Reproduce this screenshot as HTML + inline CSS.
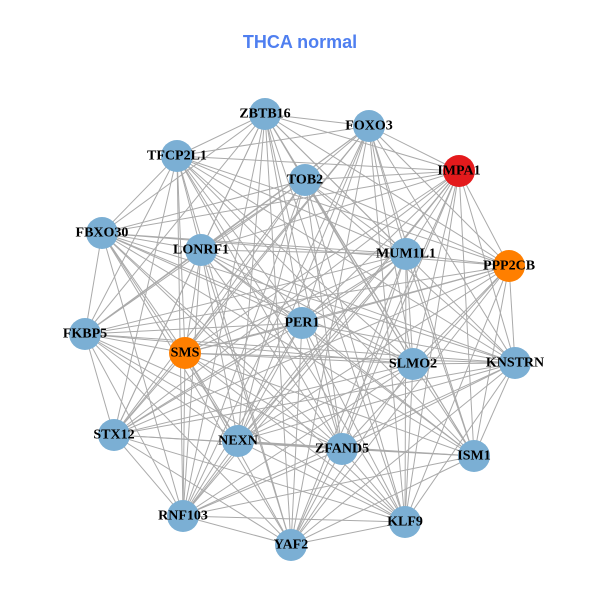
<!DOCTYPE html>
<html><head><meta charset="utf-8"><style>
html,body{margin:0;padding:0;background:#fff;}
svg{display:block;}
.l{font-family:"Liberation Serif",serif;font-weight:bold;font-size:14px;fill:#000;text-anchor:middle;dominant-baseline:central;}
</style></head><body>
<svg id="s" width="600" height="600" viewBox="0 0 600 600">
<rect width="600" height="600" fill="#fff"/>
<text x="300" y="42" text-anchor="middle" dominant-baseline="central" font-family="Liberation Sans, sans-serif" font-weight="bold" font-size="18" fill="#4f7ff0">THCA normal</text>
<g id="e" stroke="#aaaaaa" stroke-width="1"></g>
<g id="n"></g>
<g id="t"></g>
</svg>
<script>
var N=[["ZBTB16",265,114,"#7bafd4"],["FOXO3",369,126,"#7bafd4"],["IMPA1",459,171,"#e41a1c"],["TFCP2L1",177,156,"#7bafd4"],["TOB2",305,180,"#7bafd4"],["FBXO30",102,233,"#7bafd4"],["LONRF1",201,250,"#7bafd4"],["MUM1L1",406,254,"#7bafd4"],["PPP2CB",509,266,"#ff7f00"],["PER1",302,323,"#7bafd4"],["FKBP5",85,334,"#7bafd4"],["SMS",185,353,"#ff7f00"],["SLMO2",413,364,"#7bafd4"],["KNSTRN",515,363,"#7bafd4"],["STX12",114,435,"#7bafd4"],["NEXN",238,441,"#7bafd4"],["ZFAND5",342,449,"#7bafd4"],["ISM1",474,456,"#7bafd4"],["RNF103",183,516,"#7bafd4"],["KLF9",405,522,"#7bafd4"],["YAF2",291,545,"#7bafd4"]];
var ns="http://www.w3.org/2000/svg",E=document.getElementById("e"),G=document.getElementById("n"),T=document.getElementById("t");
for(var i=0;i<N.length;i++)for(var j=i+1;j<N.length;j++){
 if((i*7+j*3)%11==0)continue;
 var l=document.createElementNS(ns,"line");
 l.setAttribute("x1",N[i][1]);l.setAttribute("y1",N[i][2]);l.setAttribute("x2",N[j][1]);l.setAttribute("y2",N[j][2]);E.appendChild(l);}
N.forEach(function(d){var c=document.createElementNS(ns,"circle");c.setAttribute("cx",d[1]);c.setAttribute("cy",d[2]);c.setAttribute("r",16);c.setAttribute("fill",d[3]);G.appendChild(c);
var t=document.createElementNS(ns,"text");t.setAttribute("class","l");t.setAttribute("x",d[1]);t.setAttribute("y",d[2]);t.textContent=d[0];T.appendChild(t);});
</script>
</body></html>
